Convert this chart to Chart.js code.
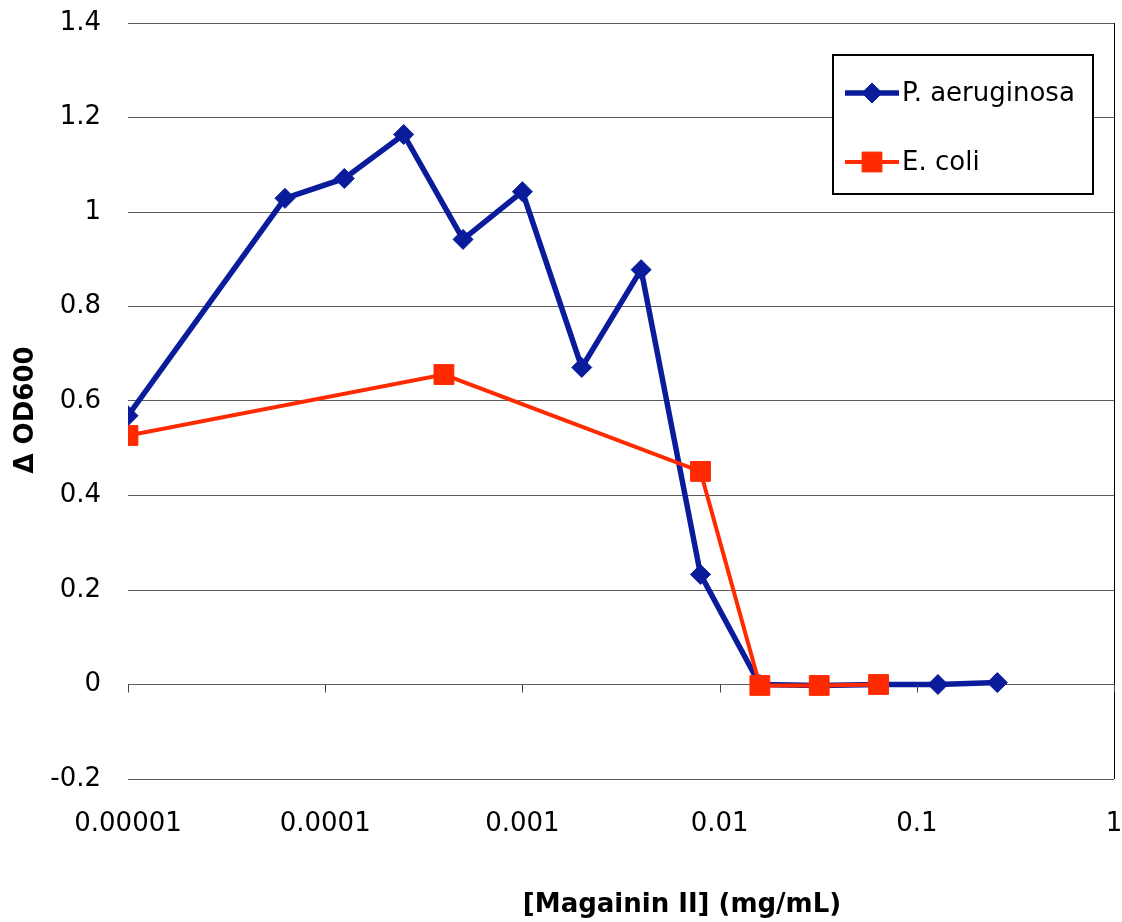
<!DOCTYPE html>
<html>
<head>
<meta charset="utf-8">
<script src="https://cdn.jsdelivr.net/npm/chart.js@4/dist/chart.umd.min.js"></script>
<style>
  html, body { margin: 0; padding: 0; background: #fff; }
  #wrap { width: 1122px; height: 922px; position: relative; }
</style>
</head>
<body>
<div id="wrap"><canvas id="c" width="1122" height="922"></canvas></div>
<script>
// ---- data ----
const seriesNames = ['P. aeruginosa', 'E. coli'];
const paConc = [0.00001, 0.0000625, 0.000125, 0.00025, 0.0005, 0.001, 0.002, 0.004, 0.008, 0.016, 0.032, 0.064, 0.128, 0.256];
const paOD   = [0.569, 1.029, 1.071, 1.164, 0.942, 1.043, 0.671, 0.878, 0.233, 0.000, -0.002, 0.000, 0.000, 0.004];
const ecConc = [0.00001, 0.0004, 0.008, 0.016, 0.032, 0.064];
const ecOD   = [0.527, 0.656, 0.451, -0.002, -0.002, 0.000];
const xTickValues = [0.00001, 0.0001, 0.001, 0.01, 0.1, 1];
const xTickLabels = ['0.00001', '0.0001', '0.001', '0.01', '0.1', '1'];
const yTickValues = [-0.2, 0, 0.2, 0.4, 0.6, 0.8, 1, 1.2, 1.4];
const yTickLabels = ['-0.2', '0', '0.2', '0.4', '0.6', '0.8', '1', '1.2', '1.4'];
const xTitle = '[Magainin II] (mg/mL)';
const yTitle = '\u0394 OD600';

const BLUE = '#0A1C9C';
const RED = '#FF2A00';
const FONT = '"DejaVu Sans", Verdana, sans-serif';

const toPts = (xs, ys) => xs.map((x, i) => ({ x: x, y: ys[i] }));

const noPad = function () { this.paddingLeft = 0; this.paddingRight = 0; this.paddingTop = 0; this.paddingBottom = 0; };

const decor = {
  id: 'decor',
  afterDraw(chart) {
    const ctx = chart.ctx;
    const xs = chart.scales.x, ys = chart.scales.y;
    const y0 = ys.getPixelForValue(0);
    ctx.save();
    // tick marks on the zero line
    ctx.strokeStyle = '#444';
    ctx.lineWidth = 1;
    xTickValues.forEach(v => {
      const px = Math.round(xs.getPixelForValue(v)) + 0.5;
      ctx.beginPath();
      ctx.moveTo(px, y0);
      ctx.lineTo(px, y0 + 8);
      ctx.stroke();
    });
    // axis titles
    ctx.fillStyle = '#000';
    ctx.font = 'bold 26px ' + FONT;
    ctx.textAlign = 'center';
    ctx.textBaseline = 'middle';
    ctx.fillText(xTitle, 682, 905);
    ctx.save();
    ctx.translate(26, 410);
    ctx.rotate(-Math.PI / 2);
    ctx.fillText(yTitle, 0, 0);
    ctx.restore();
    // legend box
    const bx = 833, by = 55, bw = 260, bh = 139;
    ctx.fillStyle = '#fff';
    ctx.fillRect(bx, by, bw, bh);
    ctx.strokeStyle = '#000';
    ctx.lineWidth = 2;
    ctx.strokeRect(bx, by, bw, bh);
    const rows = [93, 162];
    chart.data.datasets.forEach((ds, i) => {
      const yy = rows[i];
      ctx.strokeStyle = ds.borderColor;
      ctx.lineWidth = ds.borderWidth;
      ctx.beginPath();
      ctx.moveTo(845, yy);
      ctx.lineTo(899, yy);
      ctx.stroke();
      ctx.fillStyle = ds.pointBackgroundColor;
      ctx.strokeStyle = ds.pointBorderColor;
      ctx.lineWidth = 1;
      Chart.helpers.drawPoint(ctx, {
        pointStyle: ds.pointStyle,
        radius: ds.pointRadius,
        borderWidth: 1,
        rotation: 0
      }, 872, yy);
      ctx.fillStyle = '#000';
      ctx.font = '26px ' + FONT;
      ctx.textAlign = 'left';
      ctx.textBaseline = 'middle';
      ctx.fillText(ds.label, 902, yy + 1);
    });
    ctx.restore();
  }
};

new Chart(document.getElementById('c'), {
  type: 'scatter',
  data: {
    datasets: [
      {
        label: seriesNames[0],
        data: toPts(paConc, paOD),
        showLine: true,
        borderColor: BLUE,
        backgroundColor: BLUE,
        pointBackgroundColor: BLUE,
        pointBorderColor: BLUE,
        borderWidth: 5.5,
        pointStyle: 'rectRot',
        pointRadius: 10,
        pointBorderWidth: 1,
        order: 1
      },
      {
        label: seriesNames[1],
        data: toPts(ecConc, ecOD),
        showLine: true,
        borderColor: RED,
        backgroundColor: RED,
        pointBackgroundColor: RED,
        pointBorderColor: RED,
        borderWidth: 4,
        pointStyle: 'rect',
        pointRadius: 14,
        pointBorderWidth: 1,
        order: 0
      }
    ]
  },
  options: {
    responsive: false,
    animation: false,
    devicePixelRatio: 1,
    layout: { autoPadding: false, padding: { top: 23, right: 8, left: 0, bottom: 0 } },
    plugins: { legend: { display: false }, tooltip: { enabled: false } },
    scales: {
      x: {
        type: 'logarithmic',
        min: xTickValues[0],
        max: xTickValues[xTickValues.length - 1],
        afterBuildTicks: s => { s.ticks = xTickValues.map(v => ({ value: v })); s._calculatePadding = noPad; },
        afterFit: s => { s.height = 143; s.paddingLeft = 0; s.paddingRight = 0; },
        ticks: {
          autoSkip: false,
          maxRotation: 0,
          padding: 30,
          color: '#000',
          font: { family: FONT, size: 26 },
          callback: (v) => { const i = xTickValues.indexOf(v); return i >= 0 ? xTickLabels[i] : ''; }
        },
        grid: {
          drawTicks: false,
          color: c => (c.tick && c.tick.value === 1) ? '#000' : 'rgba(0,0,0,0)',
          lineWidth: 1
        },
        border: { display: false }
      },
      y: {
        min: -0.2,
        max: 1.4,
        afterBuildTicks: s => { s.ticks = yTickValues.map(v => ({ value: v })); s._calculatePadding = noPad; },
        afterFit: s => { s.width = 128; s.paddingTop = 0; s.paddingBottom = 0; },
        ticks: {
          padding: 27,
          color: '#000',
          font: { family: FONT, size: 26 },
          callback: (v) => { const i = yTickValues.findIndex(t => Math.abs(t - v) < 1e-9); return i >= 0 ? yTickLabels[i] : ''; }
        },
        grid: { drawTicks: false, color: '#5c5c5c', lineWidth: 1 },
        border: { display: false }
      }
    }
  },
  plugins: [decor]
});
</script>
</body>
</html>
